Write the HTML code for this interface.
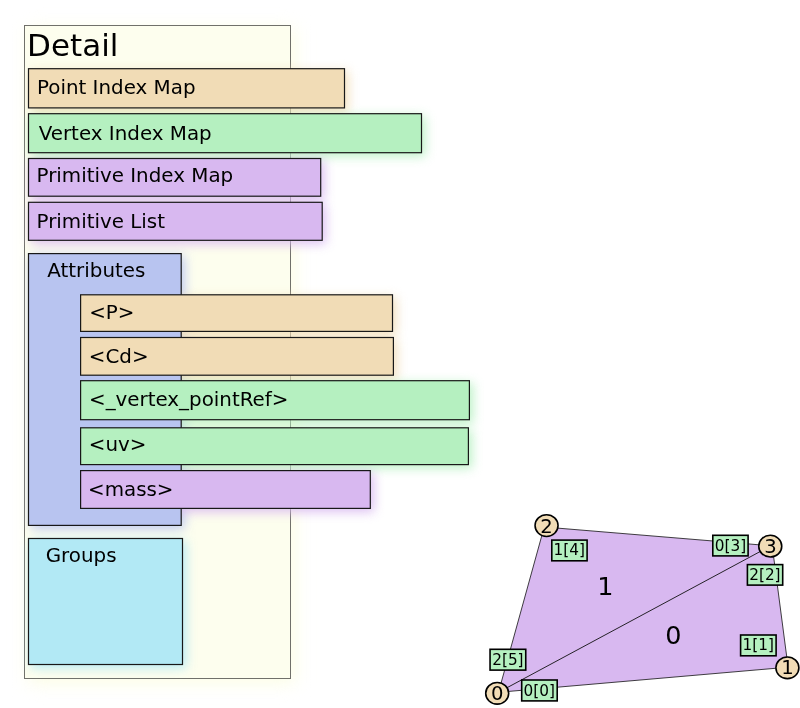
<!DOCTYPE html>
<html>
<head>
<meta charset="utf-8">
<title>Detail</title>
<style>
html,body{margin:0;padding:0;background:#fff;}
svg{display:block;}
text{font-family:"DejaVu Sans","Liberation Sans",sans-serif;fill:#000;opacity:0.999;}
.t{font-size:19.88px;}
.s{font-size:15.3px;}
.c{font-size:18.7px;text-anchor:middle;}
.f{font-size:25.5px;}
.b{stroke:#181818;stroke-width:1.2;}
.v{fill:#b5f0c0;stroke:#000;stroke-width:1.6;}
.p{fill:#f1dcb6;stroke:#000;stroke-width:1.6;}
</style>
</head>
<body>
<svg width="800" height="708" viewBox="0 0 800 708">
<defs>
<filter id="glow" filterUnits="userSpaceOnUse" x="0" y="30" width="520" height="678" color-interpolation-filters="sRGB">
<feGaussianBlur stdDeviation="5.5" result="b"/>
<feOffset in="b" dx="2.5" dy="2.5"/>
</filter>
<filter id="shD" filterUnits="userSpaceOnUse" x="0" y="0" width="360" height="708" color-interpolation-filters="sRGB">
<feGaussianBlur stdDeviation="9" result="b"/>
<feOffset in="b" dx="4" dy="4"/>
</filter>
</defs>
<rect width="800" height="708" fill="#ffffff"/>
<!-- Detail -->
<rect x="24" y="25" width="267" height="654" fill="#fcfde4" filter="url(#shD)"/>
<rect x="24.5" y="25.5" width="266" height="653" fill="#fdfeee" stroke="#70706a" stroke-width="1"/>
<text transform="translate(27.1,55.7) scale(1.055,1)" font-size="29.4">Detail</text>

<!-- soft glows -->
<g filter="url(#glow)" opacity="0.9">
<rect x="27.9" y="68.1" width="317.2" height="40.4" fill="#f1dcb6"/>
<rect x="27.9" y="113.1" width="394.2" height="40.2" fill="#b5f0c0"/>
<rect x="27.9" y="157.9" width="293.4" height="38.9" fill="#d8b8f0"/>
<rect x="27.9" y="201.7" width="294.9" height="39.2" fill="#d8b8f0"/>
<rect x="27.9" y="253.0" width="153.9" height="273.0" fill="#b8c4f0"/>
<rect x="80.0" y="294.2" width="313.1" height="37.8" fill="#f1dcb6"/>
<rect x="80.0" y="336.9" width="314.0" height="38.9" fill="#f1dcb6"/>
<rect x="80.0" y="380.1" width="390.0" height="40.2" fill="#b5f0c0"/>
<rect x="80.0" y="427.2" width="389.0" height="38.0" fill="#b5f0c0"/>
<rect x="80.0" y="470.0" width="290.9" height="39.0" fill="#d8b8f0"/>
<rect x="27.9" y="537.9" width="155.2" height="127.2" fill="#b2e9f5"/>
</g>
<!-- boxes -->
<rect class="b" x="28.5" y="68.7" width="316" height="39.2" fill="#f1dcb6"/>
<text class="t" x="37" y="93.7">Point Index Map</text>
<rect class="b" x="28.5" y="113.7" width="393" height="39" fill="#b5f0c0"/>
<text class="t" x="38.7" y="139.5">Vertex Index Map</text>
<rect class="b" x="28.5" y="158.5" width="292.2" height="37.7" fill="#d8b8f0"/>
<text class="t" x="36.5" y="182">Primitive Index Map</text>
<rect class="b" x="28.5" y="202.3" width="293.7" height="38" fill="#d8b8f0"/>
<text class="t" x="36.5" y="227.5">Primitive List</text>
<rect class="b" x="28.5" y="253.6" width="152.7" height="271.8" fill="#b8c4f0"/>
<text class="t" x="47.3" y="276.8">Attributes</text>
<rect class="b" x="80.6" y="294.8" width="311.9" height="36.6" fill="#f1dcb6"/>
<text class="t" x="89.2" y="319">&lt;P&gt;</text>
<rect class="b" x="80.6" y="337.5" width="312.8" height="37.7" fill="#f1dcb6"/>
<text class="t" x="88.8" y="362.7">&lt;Cd&gt;</text>
<rect class="b" x="80.6" y="380.7" width="388.8" height="39" fill="#b5f0c0"/>
<text class="t" x="89" y="406.1">&lt;_vertex_pointRef&gt;</text>
<rect class="b" x="80.6" y="427.8" width="387.8" height="36.8" fill="#b5f0c0"/>
<text class="t" x="88.8" y="450.6">&lt;uv&gt;</text>
<rect class="b" x="80.6" y="470.6" width="289.7" height="37.8" fill="#d8b8f0"/>
<text class="t" x="88" y="495.6">&lt;mass&gt;</text>
<rect class="b" x="28.5" y="538.5" width="154" height="126" fill="#b2e9f5"/>
<text class="t" x="45.7" y="561.8">Groups</text>

<!-- Geometry -->
<polygon points="498.5,692.3 788.1,667.2 772.2,545.9 544.2,527" fill="#d8b8f0" stroke="#111" stroke-width="0.8"/>
<line x1="498.5" y1="692.3" x2="771" y2="545.7" stroke="#111" stroke-width="0.9"/>
<text class="f" x="597.2" y="595.2">1</text>
<text class="f" x="665.2" y="643.6">0</text>

<rect class="v" x="490.05" y="649.3" width="35.7" height="20.8"/>
<text class="s" x="492.2" y="664.6">2[5]</text>
<rect class="v" x="521.7" y="680" width="35.5" height="20.9"/>
<text class="s" x="523.5" y="695.5">0[0]</text>
<rect class="v" x="551.8" y="540.1" width="35.3" height="20.7"/>
<text class="s" x="553.6" y="555.4">1[4]</text>
<rect class="v" x="712.8" y="535.3" width="35.3" height="20.6"/>
<text class="s" x="714.8" y="550.5">0[3]</text>
<rect class="v" x="747.4" y="564.6" width="35.3" height="20.5"/>
<text class="s" x="749.2" y="579.7">2[2]</text>
<rect class="v" x="740.6" y="635" width="35.5" height="20.8"/>
<text class="s" x="742.5" y="650.3">1[1]</text>

<ellipse class="p" cx="497.2" cy="693.3" rx="11.5" ry="10.85"/>
<text class="c" transform="translate(497.3,700.1) scale(1.05,1)">0</text>
<ellipse class="p" cx="787.4" cy="667.8" rx="11.5" ry="10.85"/>
<text class="c" transform="translate(787.6,674.2) scale(1.05,1)">1</text>
<ellipse class="p" cx="546.55" cy="525.6" rx="11.5" ry="10.85"/>
<text class="c" transform="translate(546.6,532.6) scale(1.05,1)">2</text>
<ellipse class="p" cx="770.25" cy="546.15" rx="11.5" ry="10.85"/>
<text class="c" transform="translate(770.5,553.0) scale(1.05,1)">3</text>
</svg>
</body>
</html>
